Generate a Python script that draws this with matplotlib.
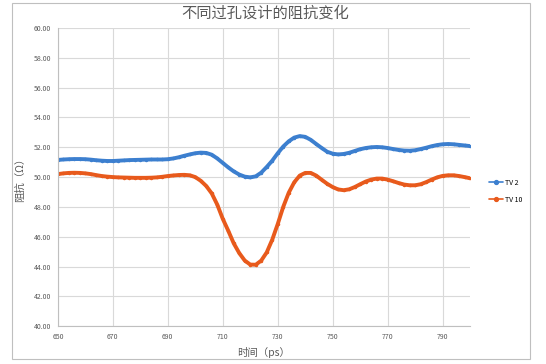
import matplotlib.pyplot as plt
import numpy as np
from matplotlib.patches import Rectangle

plt.rcParams["font.family"] = ["Noto Sans CJK SC", "DejaVu Sans"]

TITLE = "不同过孔设计的阻抗变化"
X_LABEL = "时间（ps）"
Y_LABEL = "阻抗（Ω）"

time_ps = np.arange(650, 801, 2)

tv2 = [
    51.15, 51.18, 51.20, 51.21, 51.21, 51.20, 51.17, 51.13, 51.10, 51.08,
    51.08, 51.10, 51.12, 51.14, 51.15, 51.16, 51.17, 51.18, 51.18, 51.18,
    51.20, 51.25, 51.33, 51.43, 51.52, 51.60, 51.64, 51.62, 51.50, 51.25,
    50.95, 50.65, 50.38, 50.17, 50.03, 49.98, 50.05, 50.30, 50.68, 51.10,
    51.60, 52.05, 52.40, 52.65, 52.75, 52.70, 52.50, 52.22, 51.95, 51.70,
    51.57, 51.52, 51.55, 51.63, 51.75, 51.87, 51.95, 52.00, 52.02, 52.00,
    51.95, 51.88, 51.82, 51.78, 51.77, 51.80, 51.88, 51.97, 52.07, 52.15,
    52.20, 52.22, 52.20, 52.16, 52.12, 52.08,
]

tv10 = [
    50.20, 50.25, 50.28, 50.29, 50.28, 50.25, 50.20, 50.13, 50.07, 50.03,
    50.00, 49.98, 49.97, 49.96, 49.95, 49.95, 49.95, 49.96, 49.98, 50.02,
    50.07, 50.11, 50.14, 50.15, 50.12, 50.00, 49.75, 49.40, 48.90, 48.15,
    47.20, 46.40, 45.55, 44.90, 44.40, 44.13, 44.12, 44.40, 44.95, 45.80,
    46.85, 48.00, 48.95, 49.65, 50.10, 50.28, 50.28, 50.10, 49.82, 49.55,
    49.33, 49.17, 49.12, 49.18, 49.33, 49.52, 49.70, 49.83, 49.90, 49.90,
    49.83, 49.72, 49.60, 49.50, 49.45, 49.45, 49.52, 49.66, 49.83, 49.98,
    50.08, 50.12, 50.12, 50.07, 50.00, 49.92,
]

x_ticks = np.arange(650, 800, 20)
y_ticks = np.arange(40, 61, 2)

BLUE = "#3c7fcf"
ORANGE = "#e85a1c"
GREY_TEXT = "#595959"


def main():
    fig = plt.figure(figsize=(5.46, 3.64), dpi=100)
    ax = fig.add_axes([0.106, 0.104, 0.755, 0.819])

    ax.plot(time_ps, tv2, color=BLUE, linewidth=2.8, solid_capstyle="round",
            marker="o", markersize=1.5, label="TV 2")
    ax.plot(time_ps, tv10, color=ORANGE, linewidth=2.8, solid_capstyle="round",
            marker="o", markersize=1.5, label="TV 10")

    ax.set_xlim(650, 800)
    ax.set_ylim(40, 60)
    ax.set_xticks(x_ticks)
    ax.set_yticks(y_ticks)
    ax.set_yticklabels([f"{v:.2f}" for v in y_ticks])
    ax.tick_params(labelsize=5, colors=GREY_TEXT, length=0, pad=5)
    ax.grid(True, color="#d9d9d9", linewidth=0.8)
    ax.set_axisbelow(True)

    for side in ("top", "right"):
        ax.spines[side].set_visible(False)
    for side in ("left", "bottom"):
        ax.spines[side].set_color("#bfbfbf")
        ax.spines[side].set_linewidth(0.8)

    ax.set_xlabel(X_LABEL, fontsize=7.5, color=GREY_TEXT, labelpad=4)
    ax.set_ylabel(Y_LABEL, fontsize=7.5, color=GREY_TEXT, labelpad=6)
    fig.text(0.485, 0.965, TITLE, fontsize=11, color=GREY_TEXT,
             ha="center", va="center")

    leg = ax.legend(loc="center left", bbox_to_anchor=(0.885, 0.475),
                    bbox_transform=fig.transFigure, frameon=False, fontsize=5,
                    handlelength=2.0, labelspacing=1.3, handletextpad=0.2)
    for line in leg.get_lines():
        line.set_linewidth(1.2)
        line.set_markersize(2.8)

    fig.patches.append(Rectangle((12 / 546, 1 - 359 / 364), 518 / 546, 356 / 364,
                                 transform=fig.transFigure, fill=False,
                                 edgecolor="#bfbfbf", linewidth=0.8))

    fig.savefig("out.png", dpi=100)


if __name__ == "__main__":
    main()
